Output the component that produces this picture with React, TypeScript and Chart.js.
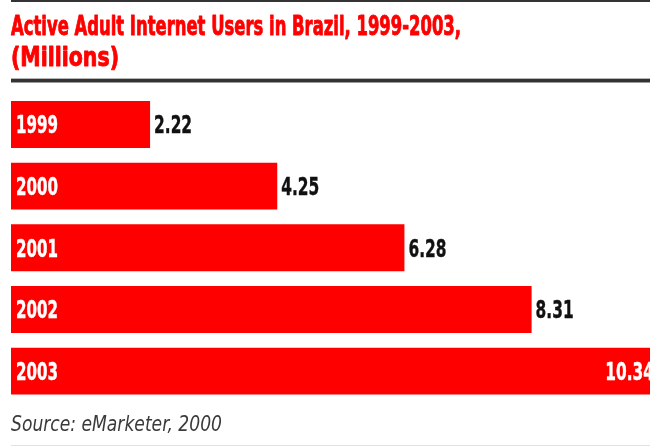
import React, { useEffect, useRef } from "react";
import { Chart, registerables } from "chart.js";

Chart.register(...registerables);

const categories: string[] = ["1999", "2000", "2001", "2002", "2003"];
const users: number[] = [2.22, 4.25, 6.28, 8.31, 10.34];
const valueLabels: string[] = ["2.22", "4.25", "6.28", "8.31", "10.34"];
const titleLines: string[] = ["Active Adult Internet Users in Brazil, 1999-2003,", "(Millions)"];
const sourceText = "Source: eMarketer, 2000";

const COND = "'Liberation Sans Narrow', 'DejaVu Sans Condensed', 'Arial Narrow', sans-serif";
const RED = "#ff0000";

function drawScaled(ctx: any, text: string, x: number, y: number, sx: number, align: string, stroke: number) {
  ctx.save();
  ctx.translate(x, y);
  ctx.scale(sx, 1);
  ctx.textAlign = align;
  ctx.fillText(text, 0, 0);
  if (stroke > 0) {
    ctx.strokeStyle = ctx.fillStyle;
    ctx.lineWidth = stroke;
    ctx.lineJoin = "round";
    ctx.strokeText(text, 0, 0);
  }
  ctx.restore();
}

function fitScale(ctx: any, text: string, target: number) {
  const w = ctx.measureText(text).width;
  return w > 0 ? target / w : 1;
}

const decorPlugin = {
  id: "decor",
  beforeDraw(chart: any) {
    const ctx = chart.ctx;
    const w = chart.width;
    ctx.save();
    ctx.fillStyle = "#ffffff";
    ctx.fillRect(0, 0, w, chart.height);
    // top rule
    ctx.fillStyle = "#333333";
    ctx.fillRect(11, 0, w - 11, 2);
    // double rule under title
    ctx.fillStyle = "#b5b5b5";
    ctx.fillRect(11, 78, w - 11, 1);
    ctx.fillStyle = "#333333";
    ctx.fillRect(11, 79, w - 11, 3);
    ctx.fillStyle = "#9a9a9a";
    ctx.fillRect(11, 82, w - 11, 1);
    // bottom rule
    ctx.fillStyle = "#e2e2e2";
    ctx.fillRect(11, 445, w - 11, 1);

    // title
    ctx.fillStyle = RED;
    ctx.font = `bold 27px ${COND}`;
    ctx.textBaseline = "alphabetic";
    drawScaled(ctx, titleLines[0], 11, 34.5, fitScale(ctx, titleLines[0], 450), "left", 0.9);
    drawScaled(ctx, titleLines[1], 11, 66, fitScale(ctx, titleLines[1], 108), "left", 0.9);

    // source
    ctx.fillStyle = "#3a3a3a";
    ctx.font = `italic 21px ${COND}`;
    drawScaled(ctx, sourceText, 11, 431, fitScale(ctx, sourceText, 211), "left", 0);
    ctx.restore();
  },
  afterDatasetsDraw(chart: any) {
    const ctx = chart.ctx;
    const meta = chart.getDatasetMeta(0);
    ctx.save();
    ctx.font = `bold 24px ${COND}`;
    ctx.textBaseline = "alphabetic";
    const ysx = fitScale(ctx, "1999", 42);
    const vsx = fitScale(ctx, "2.22", 38);
    meta.data.forEach((bar: any, i: number) => {
      const y = bar.y + 9;
      ctx.fillStyle = "#ffffff";
      drawScaled(ctx, categories[i], bar.base + 5, y, ysx, "left", 0.4);
      if (i === meta.data.length - 1) {
        ctx.fillStyle = "#ffffff";
        drawScaled(ctx, valueLabels[i], chart.width + 4, y, vsx, "right", 0.4);
      } else {
        ctx.fillStyle = "#111111";
        drawScaled(ctx, valueLabels[i], bar.x + 4, y, vsx, "left", 0.4);
      }
    });
    ctx.restore();
  },
};

export default function App() {
  const ref = useRef<HTMLCanvasElement | null>(null);
  useEffect(() => {
    if (!ref.current) return;
    const chart = new Chart(ref.current, {
      type: "bar",
      data: {
        labels: categories,
        datasets: [
          {
            data: users,
            backgroundColor: RED,
            borderWidth: 0,
            barPercentage: 0.76,
            categoryPercentage: 1,
          },
        ],
      },
      options: {
        indexAxis: "y",
        responsive: false,
        animation: false,
        layout: { padding: { left: 11, right: 0, top: 93.6, bottom: 45 } },
        scales: {
          x: { display: false, min: 0, max: 10.2 },
          y: { display: false },
        },
        plugins: {
          legend: { display: false },
          tooltip: { enabled: false },
          title: { display: false },
        },
      },
      plugins: [decorPlugin],
    });
    return () => chart.destroy();
  }, []);
  return (
    <div style={{ position: "absolute", left: 0, top: 0, width: 650, height: 447 }}>
      <canvas ref={ref} width={650} height={447} style={{ display: "block" }} />
    </div>
  );
}
